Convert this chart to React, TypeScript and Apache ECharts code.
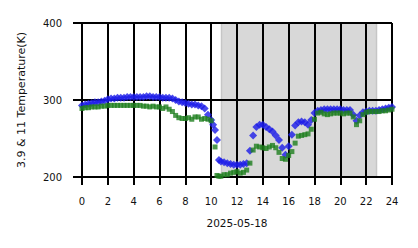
import React, { useEffect, useRef } from "react";
import * as echarts from "echarts";

const hours = [0,0.25,0.5,0.75,1,1.25,1.5,1.75,2,2.25,2.5,2.75,3,3.25,3.5,3.75,4,4.25,4.5,4.75,5,5.25,5.5,5.75,6,6.25,6.5,6.75,7,7.25,7.5,7.75,8,8.25,8.5,8.75,9,9.25,9.5,9.75,
10,10.15,10.3,10.45,10.6,10.75,
11,11.25,11.5,11.75,12,12.25,12.5,12.75,13,13.25,13.5,13.75,14,14.25,14.5,14.75,15,15.25,15.5,15.75,16,16.25,16.5,16.75,17,17.25,17.5,17.75,18,18.25,18.5,18.75,19,19.25,19.5,19.75,20,20.25,20.5,20.75,21,21.25,21.5,21.75,22,22.25,22.5,22.75,23,23.25,23.5,23.75,24];

const temp39: (number | null)[] = [
  293,294,295,296,297,297,298,299,301,302,302,303,303,303,304,304,304,304,304,304,305,305,304,304,304,303,303,303,302,300,298,297,296,295,294,294,293,292,289,281,
  274,268,261,248,222,220,
  219,218,217,216,216,216,217,218,
  234,254,265,268,
  268,265,262,259,
  254,248,238,229,
  240,255,267,271,
  272,271,268,274,
  283,286,287,288,
  288,288,288,288,
  288,287,287,287,
  281,273,280,284,
  285,286,286,286,
  287,288,289,290,
  291,
];

const temp11: (number | null)[] = [
  289,290,290,291,291,291,292,292,293,293,293,293,293,293,293,293,293,293,293,292,292,291,292,291,291,289,291,288,285,280,277,276,276,277,275,278,278,275,276,275,
  273,null,239,202,201,201,
  203,203,205,206,
  207,205,206,209,
  218,235,240,239,
  238,237,239,241,
  238,232,224,223,
  228,233,244,253,
  254,255,256,262,
  275,283,284,282,
  281,282,283,283,
  283,282,283,283,
  278,268,273,281,
  284,285,285,285,
  285,286,286,287,
  288,
];

const xTicks = [0, 24, 2];
const yTicks = [200, 400, 100];
const shadedSpan = [10.8, 22.8];
const dateLabel = "2025-05-18";
const yName = "3.9 & 11 Temperature(K)";

export default function App() {
  const ref = useRef<HTMLDivElement>(null);
  useEffect(() => {
    document.body.style.margin = "0";
    const chart = echarts.init(ref.current!, undefined, { renderer: "svg" });
    const font = "DejaVu Sans";
    const lineStyle = { color: "#000", width: 2 };
    chart.setOption({
      animation: false,
      textStyle: { fontFamily: font },
      grid: { left: 82, right: 26, top: 23, bottom: 71 },
      xAxis: {
        type: "value",
        z: 5,
        min: xTicks[0],
        max: xTicks[1],
        interval: xTicks[2],
        name: dateLabel,
        nameLocation: "middle",
        nameGap: 40,
        nameTextStyle: { fontSize: 10.5, color: "#111", fontFamily: font },
        axisLine: { show: true, lineStyle },
        axisTick: { show: true, length: 8, lineStyle },
        splitLine: { show: true, lineStyle },
        axisLabel: { fontSize: 10, color: "#111", margin: 19, fontFamily: font },
      },
      yAxis: {
        type: "value",
        z: 5,
        min: yTicks[0],
        max: yTicks[1],
        interval: yTicks[2],
        name: yName,
        nameLocation: "middle",
        nameRotate: 90,
        nameGap: 55,
        nameTextStyle: { fontSize: 11, color: "#111", fontFamily: font },
        axisLine: { show: true, lineStyle },
        axisTick: { show: true, length: 9, lineStyle },
        splitLine: { show: true, lineStyle },
        axisLabel: { fontSize: 10, color: "#111", margin: 20, fontFamily: font },
      },
      series: [
        {
          type: "line",
          z: 1,
          data: [],
          silent: true,
          markArea: {
            silent: true,
            z: 1,
            itemStyle: { color: "#d8d8d8", borderColor: "#c6c6c6", borderWidth: 1.5 },
            data: [[{ xAxis: shadedSpan[0] }, { xAxis: shadedSpan[1] }]],
          },
        },
        {
          type: "scatter",
          name: "3.9",
          symbol: "diamond",
          symbolSize: 8,
          itemStyle: { color: "#1c1ce8" },
          data: hours.map((h, i) => [h, temp39[i]]).filter((d) => d[1] != null),
          z: 6,
        },
        {
          type: "scatter",
          name: "11",
          symbol: "rect",
          symbolSize: 5,
          itemStyle: { color: "#1f801f" },
          data: hours.map((h, i) => [h, temp11[i]]).filter((d) => d[1] != null),
          z: 7,
        },
      ],
    });
    return () => chart.dispose();
  }, []);
  return <div ref={ref} style={{ width: 418, height: 248 }} />;
}
